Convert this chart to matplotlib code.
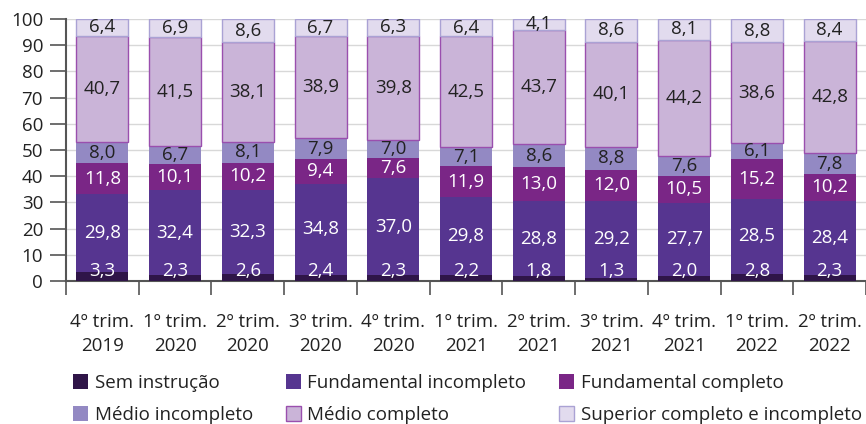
import matplotlib
matplotlib.use("Agg")
import matplotlib.pyplot as plt
import numpy as np

categories = ["4º trim.\n2019", "1º trim.\n2020", "2º trim.\n2020", "3º trim.\n2020",
              "4º trim.\n2020", "1º trim.\n2021", "2º trim.\n2021", "3º trim.\n2021",
              "4º trim.\n2021", "1º trim.\n2022", "2º trim.\n2022"]

sem_instrucao = [3.3, 2.3, 2.6, 2.4, 2.3, 2.2, 1.8, 1.3, 2.0, 2.8, 2.3]
fund_incompleto = [29.8, 32.4, 32.3, 34.8, 37.0, 29.8, 28.8, 29.2, 27.7, 28.5, 28.4]
fund_completo = [11.8, 10.1, 10.2, 9.4, 7.6, 11.9, 13.0, 12.0, 10.5, 15.2, 10.2]
medio_incompleto = [8.0, 6.7, 8.1, 7.9, 7.0, 7.1, 8.6, 8.8, 7.6, 6.1, 7.8]
medio_completo = [40.7, 41.5, 38.1, 38.9, 39.8, 42.5, 43.7, 40.1, 44.2, 38.6, 42.8]
superior = [6.4, 6.9, 8.6, 6.7, 6.3, 6.4, 4.1, 8.6, 8.1, 8.8, 8.4]

series_names = ["Sem instrução", "Fundamental incompleto", "Fundamental completo",
                "Médio incompleto", "Médio completo", "Superior completo e incompleto"]
series = [sem_instrucao, fund_incompleto, fund_completo, medio_incompleto,
          medio_completo, superior]
colors = ["#2f1548", "#563590", "#7a2686", "#9389c3", "#cab4d8", "#e2dbee"]
edges = ["none", "none", "none", "none", "#9a4fae", "#aaa2d4"]
text_colors = ["white", "white", "white", "#222222", "#222222", "#222222"]

plt.rcParams['font.family'] = ['Open Sans', 'DejaVu Sans']
FS = 13.5

fig = plt.figure(figsize=(8.66, 4.24), dpi=100)
W, H = 866, 424
ax = fig.add_axes([66 / W, 1 - 281 / H, 800 / W, (281 - 19) / H])

x = np.arange(len(categories))
bottom = np.zeros(len(categories))
handles = []
for i, (name, vals) in enumerate(zip(series_names, series)):
    vals = np.array(vals)
    b = ax.bar(x, vals, bottom=bottom, width=0.715, color=colors[i],
               edgecolor=edges[i], linewidth=1.0 if edges[i] != "none" else 0,
               label=name, zorder=3)
    handles.append(b)
    for xi, v, bt in zip(x, vals, bottom):
        if i == 0:
            y = 3.9
        else:
            y = bt + v / 2
        ax.text(xi, y, f"{v:.1f}".replace(".", ","), ha="center", va="center",
                color=text_colors[i], fontsize=FS, zorder=5)
    bottom += vals

ax.set_ylim(0, 100)
ax.set_xlim(-0.5, -0.5 + 800 / 73.4)
ax.set_yticks(np.arange(0, 101, 10))
ax.yaxis.grid(True, color="#d8d8d8", linewidth=1.0, zorder=0)
ax.set_axisbelow(True)
ax.tick_params(axis="y", length=11.5, width=1.2, color="#555555", pad=5,
               labelsize=FS, labelcolor="#222222")

ax.set_xticks(x)
ax.set_xticklabels(categories, fontsize=FS, color="#222222", linespacing=1.45)
ax.tick_params(axis="x", which="major", length=0, pad=23)
ax.set_xticks(np.arange(-0.5, len(categories), 1), minor=True)
ax.tick_params(axis="x", which="minor", length=10, width=1.2, color="#555555")

for s in ["top", "right"]:
    ax.spines[s].set_visible(False)
for s in ["left", "bottom"]:
    ax.spines[s].set_color("#555555")
    ax.spines[s].set_linewidth(1.5)

order = [0, 3, 1, 4, 2, 5]
leg = fig.legend([handles[k] for k in order], [series_names[k] for k in order],
                 loc="upper left", bbox_to_anchor=(73 / W, 1 - 374 / H),
                 ncol=3, frameon=False, fontsize=FS, handlelength=0.8,
                 handleheight=0.8, handletextpad=0.35, columnspacing=1.75,
                 labelspacing=0.75, borderpad=0, borderaxespad=0)
for t in leg.get_texts():
    t.set_color("#222222")

fig.savefig("out.png", dpi=100)
